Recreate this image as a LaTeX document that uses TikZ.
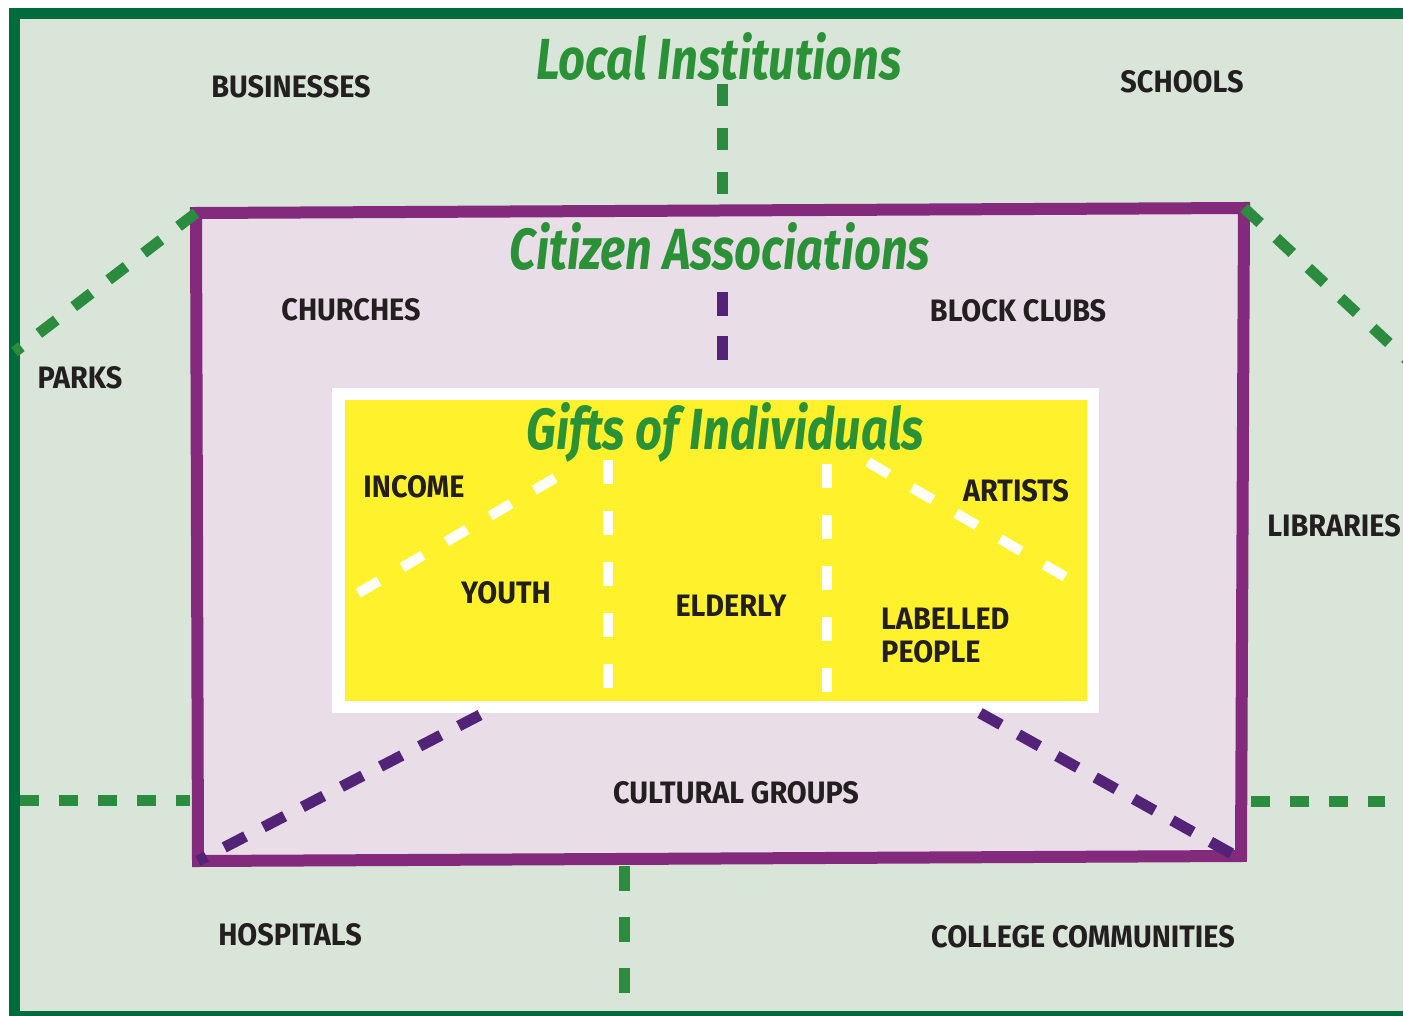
\documentclass[tikz,border=0pt]{standalone}
\usepackage{fontspec}
\newfontfamily\labfont[FakeStretch=0.93]{Fira Sans}
\newfontfamily\titfont[FakeStretch=0.81]{Fira Sans}
\definecolor{framegreen}{HTML}{006B3C}
\definecolor{bggreen}{HTML}{DAE5D9}
\definecolor{dashgreen}{HTML}{2B8C3F}
\definecolor{titgreen}{HTML}{2A9137}
\definecolor{pframe}{HTML}{832A7C}
\definecolor{pfill}{HTML}{E9DEE8}
\definecolor{pdashc}{HTML}{532378}
\definecolor{yel}{HTML}{FFF22D}
\definecolor{txt}{HTML}{231F20}
\tikzset{
  lab/.style={text=txt,font=\labfont\fontsize{31}{33}\selectfont\bfseries,inner sep=0pt,align=left},
  title/.style={text=titgreen,font=\titfont\fontsize{58}{60}\selectfont\bfseries\itshape,inner sep=0pt},
  gdash/.style={draw=dashgreen,line width=11pt,dash pattern=on 22pt off 22pt},
  pdash/.style={draw=pdashc,line width=11pt,dash pattern=on 24pt off 20pt},
  wdash/.style={draw=white,line width=10pt,dash pattern=on 24pt off 27pt},
}
\begin{document}
\begin{tikzpicture}[x=1pt,y=-1pt]
\useasboundingbox (0,0) rectangle (1403,1016);
\clip (0,0) rectangle (1403,1016);
% outer frame
\fill[white] (0,0) rectangle (1403,1016);
\draw[framegreen,fill=bggreen,line width=11pt] (14.5,14) -- (1430,14) -- (1430,1016) -- (14.5,1016) -- cycle;
\coordinate (oL1) at (14.5,352);
\coordinate (oL2) at (20,800);
\coordinate (oR1) at (1420,372);
\coordinate (oR2) at (1385,801);
\coordinate (oT) at (722,84);
\coordinate (oB) at (624,995);
% purple frame
\coordinate (pTL) at (196,213);
\coordinate (pTR) at (1244,208);
\coordinate (pBR) at (1241,856);
\coordinate (pBL) at (198,861);
\draw[pframe,fill=pfill,line width=12pt,line join=miter] (pTL) -- (pTR) -- (pBR) -- (pBL) -- cycle;
% green dashed connectors
\draw[gdash] (pTL) -- (oL1);
\draw[gdash] (pTR) -- (oR1);
\draw[gdash] (oT) -- (722,206);
\draw[gdash,dash pattern=on 19pt off 20pt] (oL2) -- (190,800);
\draw[gdash,dash pattern=on 19pt off 20pt] (1251,801) -- (oR2);
\draw[gdash,dash pattern=on 25pt off 26pt] (624,866) -- (oB);
% white + yellow box
\node[draw=none,fill=white,minimum width=767pt,minimum height=325pt,inner sep=0pt] (wbox) at (715.5,550.5) {};
\node[fill=yel,minimum width=742pt,minimum height=301pt,inner sep=0pt] (ybox) at (716,550.5) {};
% purple dashed connectors
\draw[pdash] (722,292) -- (722,370);
\draw[pdash] (480,715) -- (pBL);
\draw[pdash] (980,713) -- (1234,855);
% white dashed
\draw[wdash] (608,460) -- (608,692);
\draw[wdash] (827,464) -- (827,698);
\draw[wdash] (555,478) -- (350,598);
\draw[wdash] (868,462) -- (1074,582);
% titles
\node[title] (t1) at (719,57) {Local Institutions};
\node[title] (t2) at (720,247) {Citizen Associations};
\node[title] (t3) at (725,432) {Gifts of Individuals};
% labels
\node[lab] (bus) at (291,87) {BUSINESSES};
\node[lab] (sch) at (1182,82) {SCHOOLS};
\node[lab] (par) at (80,378) {PARKS};
\node[lab] (chu) at (351,310) {CHURCHES};
\node[lab] (blo) at (1018,311) {BLOCK CLUBS};
\node[lab] (lib) at (1334,526) {LIBRARIES};
\node[lab] (inc) at (414,487) {INCOME};
\node[lab] (art) at (1016,491) {ARTISTS};
\node[lab] (you) at (506,593) {YOUTH};
\node[lab] (eld) at (731,606) {ELDERLY};
\node[lab,anchor=west] (labp) at (881,636) {LABELLED\\PEOPLE};
\node[lab] (cul) at (736,793) {CULTURAL GROUPS};
\node[lab] (hos) at (290,935) {HOSPITALS};
\node[lab] (col) at (1083,937) {COLLEGE COMMUNITIES};
\end{tikzpicture}
\end{document}
